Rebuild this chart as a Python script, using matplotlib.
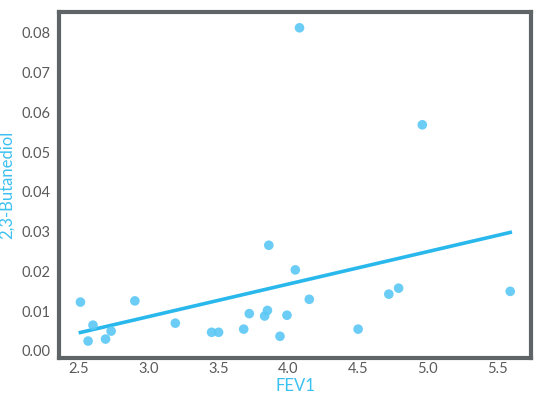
import numpy as np
import matplotlib
matplotlib.use('Agg')
import matplotlib.pyplot as plt

# FEV1 vs 2,3-Butanediol
fev1 = [2.51, 2.565, 2.60, 2.69, 2.73, 2.90, 3.19, 3.45, 3.50, 3.68, 3.72, 3.83,
        3.85, 3.86, 3.94, 3.99, 4.05, 4.08, 4.15, 4.50, 4.72, 4.79, 4.96, 5.59]
butanediol = [0.0123, 0.0025, 0.0065, 0.0030, 0.0050, 0.0126, 0.0070, 0.0047,
              0.0047, 0.0055, 0.0094, 0.0088, 0.0102, 0.0266, 0.0037, 0.0090,
              0.0204, 0.0813, 0.0130, 0.0055, 0.0143, 0.0158, 0.0569, 0.0150]

xticks = [2.5, 3.0, 3.5, 4.0, 4.5, 5.0, 5.5]
yticks = [0.00, 0.01, 0.02, 0.03, 0.04, 0.05, 0.06, 0.07, 0.08]

plt.rcParams['font.family'] = ['Lato', 'DejaVu Sans']

fig = plt.figure(figsize=(5.42, 3.96), dpi=100)
ax = fig.add_axes([0.109, 0.096, 0.871, 0.874])

ax.scatter(fev1, butanediol, s=48, color='#5bc8f5', alpha=0.9, edgecolors='none', zorder=3)

# linear trend
x = np.array(fev1)
slope, icpt = np.polyfit(x, butanediol, 1)
xl = np.array([x.min(), x.max()])
ax.plot(xl, slope * xl + icpt, color='#29b8ec', lw=2.6, zorder=2)

ax.set_xlim(2.357, 5.74)
ax.set_ylim(-0.00176, 0.0853)
ax.set_xticks(xticks)
ax.set_xticklabels(['{:.1f}'.format(t) for t in xticks])
ax.set_yticks(yticks)
ax.set_yticklabels(['{:.2f}'.format(t) for t in yticks])
ax.tick_params(length=0, labelsize=10.5, labelcolor='#5a5a5a', pad=6)
ax.tick_params(axis='x', pad=3)

for s in ax.spines.values():
    s.set_linewidth(3)
    s.set_color('#5f6466')

ax.set_xlabel('FEV1', color='#3cc0f0', fontsize=12, labelpad=1)
ax.set_ylabel('2,3-Butanediol', color='#3cc0f0', fontsize=12, labelpad=5)

fig.savefig('out.png', dpi=100)
